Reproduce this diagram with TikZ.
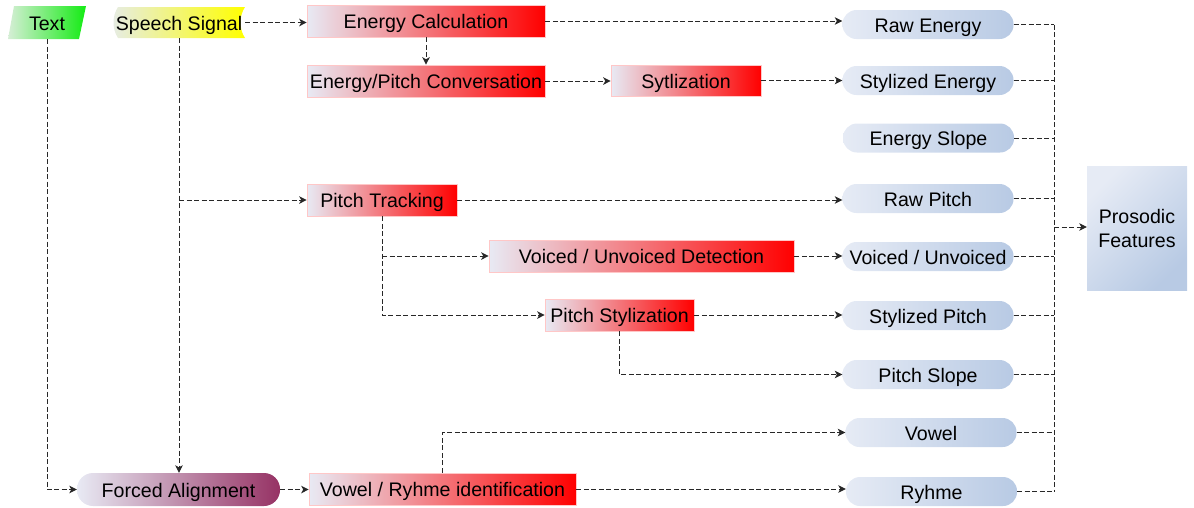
\documentclass[tikz,border=0pt]{standalone}
\usepackage{fontspec}
\setmainfont{Liberation Sans}
\usetikzlibrary{arrows.meta}

\definecolor{procL}{RGB}{232,234,244}
\definecolor{procR}{RGB}{255,0,0}
\definecolor{featL}{RGB}{230,235,245}
\definecolor{featR}{RGB}{184,202,228}
\definecolor{txtL}{RGB}{214,238,214}
\definecolor{txtR}{RGB}{20,236,20}
\definecolor{ssL}{RGB}{230,236,228}
\definecolor{ssR}{RGB}{255,255,0}
\definecolor{faR}{RGB}{150,50,100}
\definecolor{linkC}{RGB}{40,40,40}

\tikzset{
  fnt/.style={font=\fontsize{19.6}{24}\selectfont, text=black},
  lbl/.style={fnt, text height=16.5pt, text depth=1.5pt},
  proc/.style={lbl, rectangle, inner sep=0pt, left color=procL, right color=procR,
               draw=procR!22, line width=0.6pt, minimum height=32pt},
  feat/.style={lbl, rectangle, rounded corners=14pt, inner sep=0pt,
               left color=featL, right color=featR, minimum width=171pt, minimum height=29pt},
  link/.style={draw=linkC, line width=0.95pt, dash pattern=on 5pt off 2.5pt},
  arr/.style={link, -{Stealth[length=7.5pt,width=7.5pt,inset=2pt]}}
}

\begin{document}
\begin{tikzpicture}[x=1pt,y=-1pt]
\useasboundingbox (0,0) rectangle (1194,507);

% input shapes
\shade[left color=txtL, right color=txtR] (14,6) -- (86,6) -- (79,39) -- (8,39) -- cycle;
\node[lbl, inner sep=0pt, minimum width=78pt, minimum height=33pt] (text) at (47,22.5) {Text};

\shade[left color=ssL, right color=ssR]
  (118,7) -- (245,7) .. controls (239,16) and (239,29) .. (245,38)
  -- (118,38) .. controls (112,29) and (112,16) .. (118,7) -- cycle;
\node[lbl, inner sep=0pt, minimum width=132pt, minimum height=31pt] (ss) at (179,22.5) {Speech Signal};

% processing steps
\node[proc, minimum width=238pt] (ec)  at (426,21)    {Energy Calculation};
\node[proc, minimum width=238pt] (epc) at (426,81)    {Energy/Pitch Conversation};
\node[proc, minimum width=150pt, minimum height=31pt] (syl) at (686,80.5) {Sytlization};
\node[proc, minimum width=150pt] (pt)  at (382,200)   {Pitch Tracking};
\node[proc, minimum width=305pt] (vud) at (641.5,256) {Voiced / Unvoiced Detection};
\node[proc, minimum width=149pt] (ps)  at (619.5,315) {Pitch Stylization};
\node[proc, minimum width=267pt] (vri) at (442.5,489) {Vowel / Ryhme identification};
\node[lbl, rectangle, rounded corners=16pt, inner sep=0pt, minimum width=203pt, minimum height=33pt,
      left color=procL, right color=faR] (fa) at (178.5,489.5) {Forced Alignment};

% extracted features
\node[feat] (rE) at (928,24.5)   {Raw Energy};
\node[feat] (sE) at (928,80.5)   {Stylized Energy};
\node[feat] (eS) at (928.5,138)  {Energy Slope};
\node[feat] (rP) at (928,198.5)  {Raw Pitch};
\node[feat] (vu) at (928,256.5)  {Voiced / Unvoiced};
\node[feat] (sP) at (928,315.5)  {Stylized Pitch};
\node[feat] (pS) at (928,374.5)  {Pitch Slope};
\node[feat] (vo) at (931,432.5)  {Vowel};
\node[feat] (ry) at (931.5,491.5) {Ryhme};

\node[fnt, rectangle, inner sep=0pt, minimum width=100pt, minimum height=124pt, align=center,
      top color=featL, bottom color=featR, shading angle=45] (pf) at (1137,228) {Prosodic\\Features};

% connectors
\draw[arr] (ss.east) -- (ss.east -| ec.west);
\draw[arr] (ec.south) -- (epc.north);
\draw[arr] (epc.east) -- (epc.east -| syl.west);
\draw[arr] (syl.east) -- (syl.east -| sE.west);
\draw[arr] (ec.east) -- (ec.east -| rE.west);

\draw[arr] (ss.south) -- (ss.south |- fa.north);
\draw[arr] (ss.south |- pt.west) -- (pt.west);
\draw[arr] (text.south) |- (fa.west);

\draw[arr] (pt.east) -- (pt.east -| rP.west);
\draw[arr] (pt.south) |- (ps.west);
\draw[arr] (pt.south |- vud.west) -- (vud.west);
\draw[arr] (vud.east) -- (vud.east -| vu.west);
\draw[arr] (ps.east) -- (ps.east -| sP.west);
\draw[arr] (ps.south) |- (pS.west);

\draw[arr] (fa.east) -- (fa.east -| vri.west);
\draw[arr] (vri.east) -- (vri.east -| ry.west);
\draw[arr] (vri.north) |- (vo.west);

% collecting bus
\coordinate (bus) at (1054,0);
\foreach \f in {rE,sE,eS,rP,vu,sP,pS,vo,ry}
  \draw[link] (\f.east) -- (\f.east -| bus);
\draw[link] (rE.east -| bus) -- (ry.east -| bus);
\draw[arr] (1054,227) -- (pf.west |- 0,227);
\end{tikzpicture}
\end{document}
